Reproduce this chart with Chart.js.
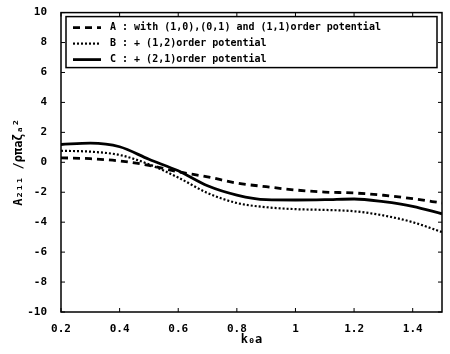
<!DOCTYPE html>
<html>
<head>
<meta charset="utf-8">
<script src="https://cdn.jsdelivr.net/npm/chart.js@4"></script>
<style>
  html, body { margin: 0; padding: 0; background: #fff; }
  #wrap { width: 450px; height: 354px; }
</style>
</head>
<body>
<div id="wrap"><canvas id="myChart" width="450" height="354"></canvas></div>
<script>
// Werte
const kValues = [0.2, 0.3, 0.4, 0.5, 0.6, 0.7, 0.8, 0.9, 1.0, 1.1, 1.2, 1.3, 1.4, 1.5];
const seriesA = [0.3, 0.24, 0.09, -0.2, -0.64, -0.97, -1.39, -1.63, -1.85, -1.99, -2.05, -2.2, -2.43, -2.72];
const seriesB = [0.77, 0.71, 0.49, -0.13, -1.02, -2.05, -2.72, -3.0, -3.13, -3.18, -3.27, -3.55, -4.0, -4.66];
const seriesC = [1.19, 1.28, 1.04, 0.2, -0.57, -1.57, -2.19, -2.5, -2.52, -2.5, -2.45, -2.63, -2.94, -3.44];
const xTicks = [0.2, 0.4, 0.6, 0.8, 1.0, 1.2, 1.4];
const yTicks = [-10, -8, -6, -4, -2, 0, 2, 4, 6, 8, 10];
const labels = [
  'A : with (1,0),(0,1) and (1,1)order potential',
  'B : + (1,2)order potential',
  'C : + (2,1)order potential'
];

const FONT = '"DejaVu Sans Mono", monospace';

function toPoints(ys) {
  return kValues.map((x, i) => ({ x: x, y: ys[i] }));
}

// Rahmen, Ticks nach innen und Legende im Plot
const boxPlugin = {
  id: 'boxPlugin',
  afterDraw(chart) {
    const c = chart.ctx;
    const a = chart.chartArea;
    const xs = chart.scales.x, ys = chart.scales.y;
    c.save();
    c.strokeStyle = '#000';
    c.lineWidth = 1.5;
    c.strokeRect(a.left, a.top, a.right - a.left, a.bottom - a.top);
    c.lineWidth = 1;
    c.beginPath();
    xTicks.forEach(v => {
      const px = xs.getPixelForValue(v);
      c.moveTo(px, a.bottom); c.lineTo(px, a.bottom - 4);
      c.moveTo(px, a.top); c.lineTo(px, a.top + 4);
    });
    yTicks.forEach(v => {
      const py = ys.getPixelForValue(v);
      c.moveTo(a.left, py); c.lineTo(a.left + 4, py);
      c.moveTo(a.right, py); c.lineTo(a.right - 4, py);
    });
    c.stroke();

    // Legende
    const lx = a.left + 5, ly = a.top + 4, lw = 371, lh = 51;
    c.fillStyle = '#fff';
    c.fillRect(lx, ly, lw, lh);
    c.lineWidth = 1.5;
    c.strokeRect(lx, ly, lw, lh);
    c.font = 'bold 10px ' + FONT;
    c.textBaseline = 'middle';
    chart.data.datasets.forEach((ds, i) => {
      const yy = ly + 11 + i * 16;
      c.beginPath();
      c.setLineDash(ds.borderDash || []);
      c.lineWidth = ds.borderWidth;
      c.moveTo(lx + 7, yy);
      c.lineTo(lx + 35, yy);
      c.stroke();
      c.setLineDash([]);
      c.fillStyle = '#000';
      c.fillText(ds.label, lx + 44, yy);
    });
    c.restore();
  }
};

const ctx = document.getElementById('myChart').getContext('2d');
const myChart = new Chart(ctx, {
  type: 'line',
  data: {
    datasets: [
      { label: labels[0], data: toPoints(seriesA), borderColor: '#000', borderWidth: 2.8, borderDash: [7, 5], pointRadius: 0, cubicInterpolationMode: 'monotone', fill: false },
      { label: labels[1], data: toPoints(seriesB), borderColor: '#000', borderWidth: 2.2, borderDash: [2, 2], pointRadius: 0, cubicInterpolationMode: 'monotone', fill: false },
      { label: labels[2], data: toPoints(seriesC), borderColor: '#000', borderWidth: 2.8, pointRadius: 0, cubicInterpolationMode: 'monotone', fill: false }
    ]
  },
  options: {
    responsive: false,
    animation: false,
    layout: { padding: { left: 0, right: 8, top: 10, bottom: 7 } },
    plugins: { legend: { display: false }, tooltip: { enabled: false } },
    scales: {
      x: {
        type: 'linear',
        min: 0.2,
        max: 1.5,
        afterBuildTicks: s => { s.ticks = xTicks.map(v => ({ value: v })); },
        afterFit: s => { s.height = 35; },
        grid: { display: false },
        border: { display: false },
        ticks: {
          color: '#000',
          font: { family: FONT, size: 11, weight: 'bold' },
          padding: 3,
          maxRotation: 0,
          callback: v => String(Math.round(v * 10) / 10)
        },
        title: {
          display: true,
          text: 'k₀a',
          color: '#000',
          font: { family: FONT, size: 12, weight: 'bold' },
          padding: { top: 0, bottom: 0 }
        }
      },
      y: {
        min: -10,
        max: 10,
        afterBuildTicks: s => { s.ticks = yTicks.map(v => ({ value: v })); },
        afterFit: s => { s.width = 61; },
        grid: { display: false },
        border: { display: false },
        ticks: {
          color: '#000',
          font: { family: FONT, size: 11, weight: 'bold' },
          padding: 6
        },
        title: {
          display: true,
          text: 'A₂₁₁ /ρπaζₐ²',
          color: '#000',
          font: { family: FONT, size: 12, weight: 'bold' },
          padding: { top: 12, bottom: 0 }
        }
      }
    }
  },
  plugins: [boxPlugin]
});
</script>
</body>
</html>
